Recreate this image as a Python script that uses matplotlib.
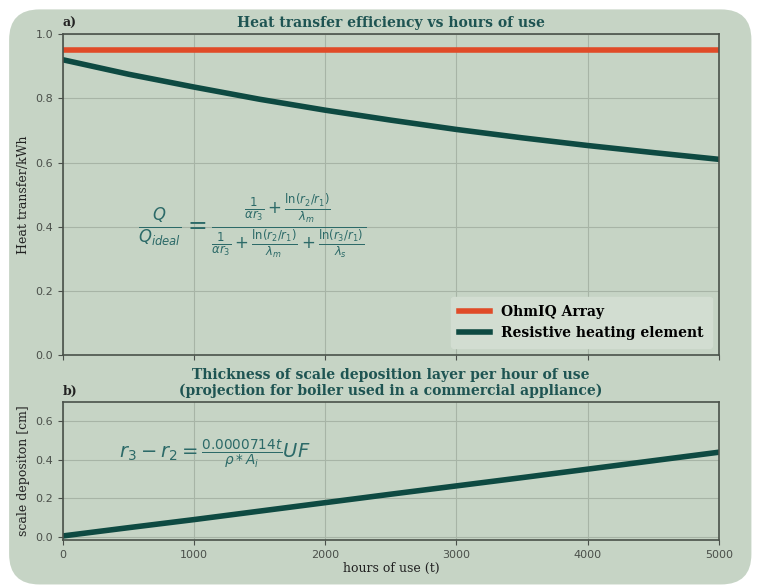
import numpy as np
import matplotlib
matplotlib.use("Agg")
import matplotlib.pyplot as plt
from matplotlib.patches import FancyBboxPatch

# hours of use
hours = [0, 500, 1000, 1500, 2000, 2500, 3000, 3500, 4000, 4500, 5000]
# heat transfer efficiency
ohmiq = [0.95] * len(hours)
resistive = [0.92, 0.875, 0.835, 0.797, 0.763, 0.732, 0.703, 0.677, 0.653, 0.631, 0.61]
# scale deposition thickness [cm]
scale = [0.005, 0.048, 0.09, 0.134, 0.178, 0.222, 0.265, 0.308, 0.352, 0.396, 0.44]

bg = "#c6d4c5"
teal = "#0e4a42"
red = "#e04b28"
title_col = "#1e5452"

fig = plt.figure(figsize=(7.59, 5.88), dpi=100, facecolor="white")
fig.patches.append(FancyBboxPatch((0.012, 0.006), 0.978, 0.978,
                                  boxstyle="round,pad=0,rounding_size=0.04",
                                  transform=fig.transFigure, facecolor=bg,
                                  edgecolor="none", zorder=-10,
                                  mutation_aspect=759 / 588))

ax1 = fig.add_axes([0.083, 0.396, 0.864, 0.546])
ax2 = fig.add_axes([0.083, 0.082, 0.864, 0.234])

for ax in (ax1, ax2):
    ax.set_facecolor(bg)
    ax.grid(True, color="#a7b4a6", linewidth=0.8)
    ax.set_axisbelow(True)
    for s in ax.spines.values():
        s.set_color("#4a524a")
        s.set_linewidth(1.2)
    ax.tick_params(labelsize=8, colors="#4a4f4a", labelcolor="#4a4f4a")
    ax.set_xlim(0, 5000)

ax1.plot(hours, ohmiq, color=red, lw=4, label="OhmIQ Array")
ax1.plot(hours, resistive, color=teal, lw=4, label="Resistive heating element")
ax1.set_ylim(0, 1.0)
ax1.set_yticks([0.0, 0.2, 0.4, 0.6, 0.8, 1.0])
ax1.set_xticks([0, 1000, 2000, 3000, 4000, 5000])
ax1.set_xticklabels([])
ax1.set_ylabel("Heat transfer/kWh", family="DejaVu Serif", fontsize=9, color="#222")
ax1.set_title("Heat transfer efficiency vs hours of use", family="DejaVu Serif",
              fontweight="bold", fontsize=10, color=title_col, pad=5)
ax1.set_title("a)", loc="left", family="DejaVu Serif", fontweight="bold",
              fontsize=9, color="#222", pad=5)
ax1.text(1440, 0.4,
         r"$\frac{Q}{Q_{ideal}} = \frac{\frac{1}{\alpha r_3}+\frac{\ln(r_2/r_1)}{\lambda_m}}"
         r"{\frac{1}{\alpha r_3}+\frac{\ln(r_2/r_1)}{\lambda_m}+\frac{\ln(r_3/r_1)}{\lambda_s}}$",
         fontsize=17, color="#2c6a68", ha="center", va="center")
leg = ax1.legend(loc="lower right", prop={"family": "DejaVu Serif", "weight": "bold", "size": 10},
                 facecolor="#d2ddd1", edgecolor="#d2ddd1", framealpha=1,
                 handlelength=2.2, borderpad=0.6)

ax2.plot(hours, scale, color=teal, lw=4)
ax2.set_ylim(-0.015, 0.7)
ax2.set_yticks([0.0, 0.2, 0.4, 0.6])
ax2.set_xticks([0, 1000, 2000, 3000, 4000, 5000])
ax2.set_ylabel("scale depositon [cm]", family="DejaVu Serif", fontsize=9, color="#222")
ax2.set_xlabel("hours of use (t)", family="DejaVu Serif", fontsize=9, color="#222", labelpad=2)
ax2.set_title("Thickness of scale deposition layer per hour of use\n"
              "(projection for boiler used in a commercial appliance)",
              family="DejaVu Serif", fontweight="bold", fontsize=10, color=title_col, pad=5)
ax2.set_title("b)", loc="left", family="DejaVu Serif", fontweight="bold",
              fontsize=9, color="#222", pad=5)
ax2.text(430, 0.43, r"$r_3 - r_2 = \frac{0.0000714t}{\rho * A_i}UF$",
         fontsize=14, color="#2c6a68", ha="left", va="center")

fig.savefig("out.png", dpi=100, facecolor="white")
